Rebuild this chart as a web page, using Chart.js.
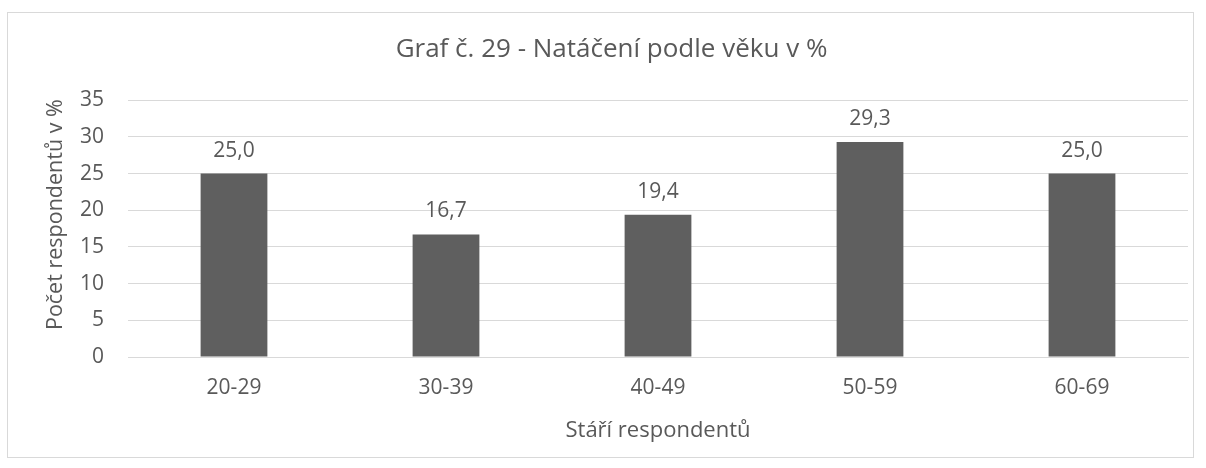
<!DOCTYPE html>
<html>
<head>
<meta charset="utf-8">
<script src="https://cdn.jsdelivr.net/npm/chart.js@4"></script>
<style>
  body { margin: 0; background: #fff; }
  #box { position: absolute; left: 7px; top: 12px; width: 1185px; height: 444px; border: 1px solid #d9d9d9; }
</style>
</head>
<body>
<div id="box"><canvas id="myChart" width="1185" height="444"></canvas></div>
<script>
// data
let ageGroups = ["20-29", "30-39", "40-49", "50-59", "60-69"];
let percentValues = [25.0, 16.7, 19.4, 29.3, 25.0];
let yTicks = [0, 5, 10, 15, 20, 25, 30, 35];

let textColor = "#595959";
let fontName = "'Open Sans', sans-serif";

// labels above bars, with comma as decimal point
let barLabels = {
    id: "barLabels",
    afterDatasetsDraw: (chart) => {
        let c = chart.ctx;
        let meta = chart.getDatasetMeta(0);
        c.save();
        c.font = "21px " + fontName;
        c.fillStyle = textColor;
        c.textAlign = "center";
        c.textBaseline = "alphabetic";
        meta.data.forEach((bar, i) => {
            let txt = percentValues[i].toFixed(1).replace(".", ",");
            c.fillText(txt, bar.x, bar.y - 17);
        });
        c.restore();
    }
};

let ctx = document.getElementById("myChart").getContext("2d");
let myChart = new Chart(ctx, {
    type: "bar",
    data: {
        labels: ageGroups,
        datasets: [{
            label: "Natáčení",
            data: percentValues,
            backgroundColor: "#5f5f5f",
            barPercentage: 0.63,
            categoryPercentage: 0.5
        }]
    },
    options: {
        responsive: false,
        animation: false,
        layout: { padding: { left: 0, right: 5, top: 0, bottom: 0 } },
        plugins: {
            legend: { display: false },
            tooltip: { enabled: false },
            title: {
                display: true,
                // leading spaces nudge the centred title a bit to the right, like the original
                text: "    Graf č. 29 - Natáčení podle věku v %",
                color: textColor,
                font: { family: fontName, size: 26, weight: "normal" },
                padding: { top: 21, bottom: 35 }
            }
        },
        scales: {
            x: {
                grid: { display: false, drawTicks: false },
                border: { color: "#d9d9d9" },
                ticks: { color: textColor, font: { family: fontName, size: 21 }, padding: 18 },
                title: {
                    display: true,
                    text: "Stáří respondentů",
                    color: textColor,
                    font: { family: fontName, size: 22 },
                    padding: { top: 0, bottom: 13 }
                },
                afterFit: (s) => { s.height = 100; }
            },
            y: {
                min: 0,
                max: 35,
                afterBuildTicks: (s) => { s.ticks = yTicks.map(v => ({ value: v })); },
                grid: { color: "#d9d9d9", drawTicks: false },
                border: { display: false },
                ticks: { color: textColor, font: { family: fontName, size: 21 }, padding: 24 },
                title: {
                    display: true,
                    // leading spaces lift the rotated title up a little
                    text: "     Počet respondentů v %",
                    color: textColor,
                    font: { family: fontName, size: 21.5 },
                    padding: { top: 35, bottom: 0 }
                },
                afterFit: (s) => { s.width = 120; }
            }
        }
    },
    plugins: [barLabels]
});
</script>
</body>
</html>
